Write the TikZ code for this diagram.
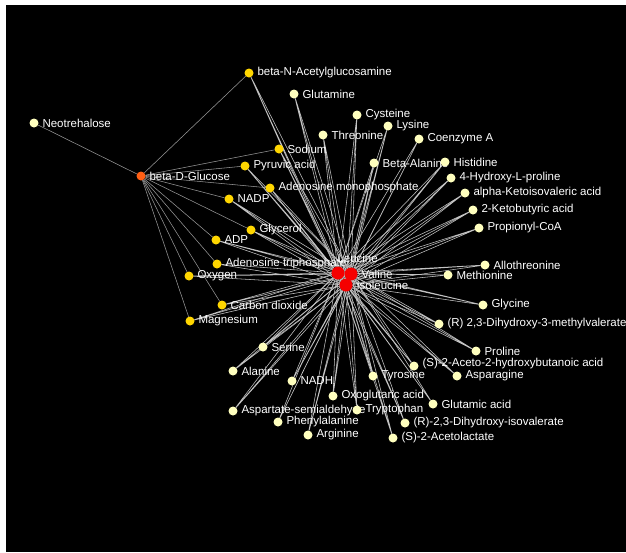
\documentclass[tikz,border=0pt]{standalone}
\usepackage{fontspec}
\setmainfont{Liberation Sans}
\pgfdeclarelayer{bg}
\pgfdeclarelayer{edges}
\pgfsetlayers{bg,edges,main}
\definecolor{creamc}{RGB}{255,255,190}
\definecolor{yellowc}{RGB}{255,214,0}
\definecolor{orangec}{RGB}{255,95,20}
\definecolor{redc}{RGB}{245,0,0}
\definecolor{edgec}{RGB}{195,195,195}
\definecolor{gedgec}{RGB}{150,150,150}
\begin{document}
\begin{tikzpicture}[x=1pt,y=-1pt,
  dot/.style={circle,inner sep=0pt,outer sep=0pt,minimum size=9pt,draw=none},
  cr/.style={dot,fill=creamc},
  yl/.style={dot,fill=yellowc},
  og/.style={dot,fill=orangec},
  rd/.style={dot,fill=redc,minimum size=13pt},
  lbl/.style={text=white,font=\fontsize{11.5}{13}\selectfont,inner sep=3.8pt},
  label distance=0pt,
  edge/.style={draw=edgec,line width=0.55pt},
  gedge/.style={draw=gedgec,line width=0.55pt}]
\newcommand\nd[4]{\node[#1,label={[lbl]right:{#4}}] (#2) at (#3) {};}
\begin{pgfonlayer}{bg}
\fill[white] (0,0) rectangle (626,552);
\fill[black] (6,5) rectangle (626,552);
\end{pgfonlayer}
\useasboundingbox (0,0) rectangle (626,552);
% red cluster
\node[rd,label={[lbl,anchor=west,xshift=-11pt,yshift=15pt]right:Leucine}] (leu) at (338,273) {};
\node[rd,label={[lbl]right:Valine}] (val) at (351,274) {};
\node[rd,label={[lbl]right:Isoleucine}] (ile) at (346,285) {};
% nodes
\nd{cr}{neo}{34,123}{Neotrehalose}
\nd{og}{glc}{141,176}{beta-D-Glucose}
\nd{yl}{bnag}{249,73}{beta-N-Acetylglucosamine}
\nd{cr}{gln}{294,94}{Glutamine}
\nd{cr}{cys}{357,115}{Cysteine}
\nd{cr}{lys}{388,126}{Lysine}
\nd{cr}{thr}{323,135}{Threonine}
\nd{cr}{coa}{419,139}{Coenzyme A}
\nd{yl}{na}{279,149}{Sodium}
\nd{yl}{pyr}{245,166}{Pyruvic acid}
\nd{cr}{bala}{374,163}{Beta-Alanine}
\nd{cr}{his}{445,162}{Histidine}
\nd{cr}{hyp}{451,178}{4-Hydroxy-L-proline}
\nd{cr}{kiv}{465,193}{alpha-Ketoisovaleric acid}
\nd{cr}{kbu}{473,210}{2-Ketobutyric acid}
\nd{cr}{pcoa}{479,228}{Propionyl-CoA}
\nd{yl}{amp}{270,188}{Adenosine monophosphate}
\nd{yl}{nadp}{229,199}{NADP}
\nd{yl}{glyc}{251,230}{Glycerol}
\nd{yl}{adp}{216,240}{ADP}
\nd{yl}{atp}{217,264}{Adenosine triphosphate}
\nd{yl}{oxy}{189,276}{Oxygen}
\nd{yl}{co2}{222,305}{Carbon dioxide}
\nd{yl}{mg}{190,321}{Magnesium}
\nd{cr}{athr}{485,265}{Allothreonine}
\nd{cr}{met}{448,275}{Methionine}
\nd{cr}{gly}{483,305}{Glycine}
\nd{cr}{dhmv}{439,324}{(R) 2,3-Dihydroxy-3-methylvalerate}
\node[cr,label={[lbl,yshift=2.5pt]right:{(S)-2-Aceto-2-hydroxybutanoic acid}}] (ahb) at (414,366) {};
\nd{cr}{asn}{457,376}{Asparagine}
\nd{cr}{pro}{476,351}{Proline}
\nd{cr}{ser}{263,347}{Serine}
\nd{cr}{ala}{233,371}{Alanine}
\nd{cr}{nadh}{292,381}{NADH}
\nd{cr}{tyr}{373,376}{Tyrosine}
\nd{cr}{akg}{333,396}{Oxoglutaric acid}
\nd{cr}{glu}{433,404}{Glutamic acid}
\nd{cr}{asa}{233,411}{Aspartate-semialdehyde}
\nd{cr}{trp}{357,410}{Tryptophan}
\nd{cr}{phe}{278,422}{Phenylalanine}
\nd{cr}{div}{405,423}{(R)-2,3-Dihydroxy-isovalerate}
\nd{cr}{arg}{308,435}{Arginine}
\nd{cr}{alac}{393,438}{(S)-2-Acetolactate}
% edges
\begin{pgfonlayer}{edges}
\foreach \n in {neo,bnag,na,pyr,amp,nadp,glyc,adp,atp,oxy,co2,mg}
  \draw[gedge] (glc) -- (\n);
\foreach \n in {bnag,gln,cys,lys,thr,coa,na,pyr,bala,his,hyp,kiv,kbu,pcoa,amp,nadp,glyc,adp,atp,oxy,co2,mg,athr,met,gly,dhmv,ahb,asn,pro,ser,ala,nadh,tyr,akg,glu,asa,trp,phe,div,arg,alac}
  \draw[edge] (\n) -- (leu) (\n) -- (val) (\n) -- (ile);
\draw[edge] (leu) -- (val) -- (ile) -- (leu);
\end{pgfonlayer}
\end{tikzpicture}
\end{document}
